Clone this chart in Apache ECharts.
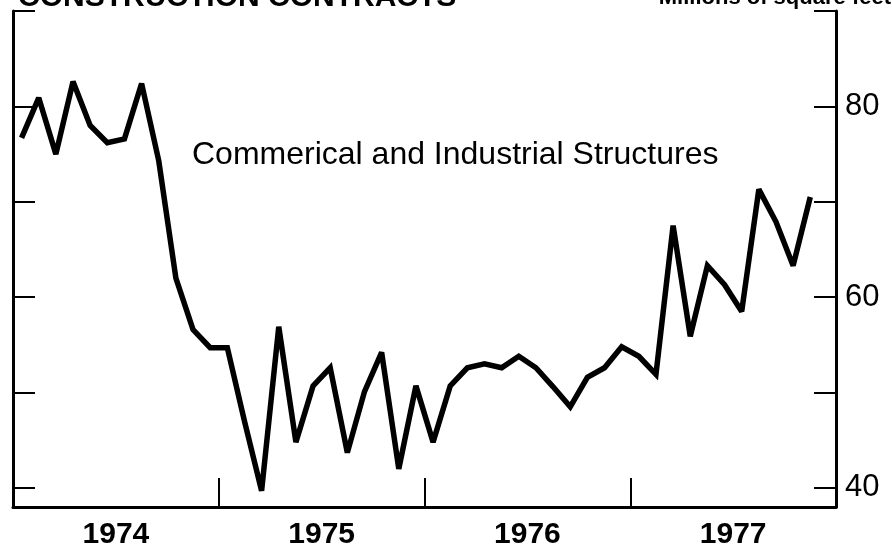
<!DOCTYPE html>
<html>
<head>
<meta charset="utf-8">
<title>Construction Contracts</title>
<script src="https://cdn.jsdelivr.net/npm/echarts@6/dist/echarts.min.js"></script>
<style>
  html, body { margin: 0; padding: 0; background: #fff; }
  #chart { width: 892px; height: 551px; }
</style>
</head>
<body>
<div id="chart"></div>
<script>
// monthly, Jan 1974 .. Nov 1977, millions of square feet
const years = ['1974', '1975', '1976', '1977'];
const contracts = [
  76.7, 80.9, 75.0, 82.6, 78.0, 76.2, 76.6, 82.4, 74.3, 62.0, 56.6, 54.7,
  54.7, 47.0, 39.7, 56.9, 44.8, 50.7, 52.6, 43.7, 50.1, 54.2, 42.0, 50.7,
  44.8, 50.7, 52.6, 53.0, 52.6, 53.8, 52.6, 50.6, 48.5, 51.6, 52.6, 54.8,
  53.8, 51.9, 67.5, 55.9, 63.3, 61.3, 58.5, 71.3, 67.9, 63.3, 70.5
];
const shownTicks = [40, 60, 80];

const font = 'Liberation Sans, Arial, Helvetica, sans-serif';
const chart = echarts.init(document.getElementById('chart'));

const yAxisBase = {
  type: 'value',
  min: 38,
  max: 90,
  splitNumber: 5,
  splitLine: { show: false },
  axisLine: { show: true, lineStyle: { color: '#000', width: 3 } },
  axisTick: { show: true, inside: true, length: 22, lineStyle: { color: '#000', width: 2 } }
};

chart.setOption({
  animation: false,
  grid: { left: 13, right: 56, top: 11, bottom: 44, containLabel: false, outerBoundsMode: 'none' },
  xAxis: [
    {
      type: 'value',
      min: 0,
      max: 48,
      interval: 12,
      splitLine: { show: false },
      axisLine: { show: true, lineStyle: { color: '#000', width: 3 } },
      axisTick: { show: true, inside: true, length: 29, lineStyle: { color: '#000', width: 2 } },
      axisLabel: { show: false }
    },
    {
      type: 'category',
      position: 'bottom',
      data: years,
      boundaryGap: true,
      axisLine: { show: false },
      axisTick: { show: false },
      axisLabel: { color: '#000', fontFamily: font, fontSize: 30, fontWeight: 'bold', margin: 13 }
    }
  ],
  yAxis: [
    Object.assign({}, yAxisBase, { position: 'left', axisLabel: { show: false } }),
    Object.assign({}, yAxisBase, {
      position: 'right',
      axisLabel: {
        show: true,
        color: '#000',
        fontFamily: font,
        fontSize: 31,
        margin: 9,
        formatter: v => (shownTicks.indexOf(v) >= 0 ? String(v) : '')
      }
    })
  ],
  series: [{
    type: 'line',
    xAxisIndex: 0,
    yAxisIndex: 0,
    data: contracts.map((v, i) => [i + 0.5, v]),
    showSymbol: false,
    symbol: 'none',
    lineStyle: { color: '#000', width: 5.5, join: 'miter', miterLimit: 2.5 }
  }],
  graphic: [
    {
      type: 'text', left: 18, top: -17,
      style: { text: 'CONSTRUCTION CONTRACTS', fill: '#000', font: 'bold 30px ' + font }
    },
    {
      type: 'text', right: 1, top: -13,
      style: { text: 'Millions of square feet', fill: '#000', font: 'bold 22px ' + font }
    },
    {
      type: 'text', x: 192, y: 155,
      style: {
        text: 'Commerical and Industrial Structures', fill: '#000',
        font: '32px ' + font, verticalAlign: 'middle', align: 'left'
      }
    }
  ]
});
</script>
</body>
</html>
